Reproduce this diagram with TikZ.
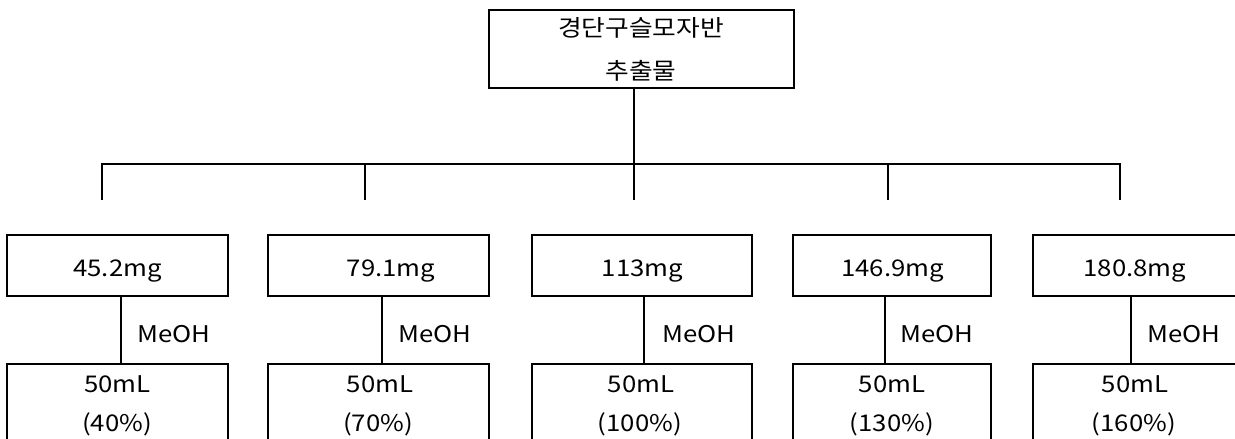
\documentclass[tikz,border=0pt]{standalone}
\usepackage{fontspec}
\setmainfont[FakeStretch=1.12]{Noto Sans CJK KR}
\begin{document}
\begin{tikzpicture}[x=1pt,y=-1pt,
  box/.style={draw, line width=2.8pt, inner sep=0pt},
  wire/.style={line width=2.6pt},
  txt/.style={anchor=base, inner sep=0pt, font=\fontsize{23}{28}\selectfont}]
\useasboundingbox (0,0) rectangle (1235,439);
\clip (0,0) rectangle (1235,439);
% top box
\node[box, minimum width=305pt, minimum height=78pt] (top) at (641.5,49) {};
\node[txt] (k1) at (641,36) {경단구슬모자반};
\node[txt] (k2) at (641,79) {추출물};
% branches
\coordinate (hub) at (634,164);
\coordinate (j1) at (102,200);
\coordinate (j2) at (365,200);
\coordinate (j3) at (634,200);
\coordinate (j4) at (888,200);
\coordinate (j5) at (1120,200);
\draw[wire] (top.south -| hub) -- (j3);
\draw[wire] (j1) -- (j1 |- hub) -- (j5 |- hub) -- (j5);
\draw[wire] (j2) -- (j2 |- hub);
\draw[wire] (j4) -- (j4 |- hub);
% upper row boxes
\node[box, minimum width=221pt, minimum height=61pt] (a1) at (117.5,265.5) {};
\node[box, minimum width=221pt, minimum height=61pt] (a2) at (378.5,265.5) {};
\node[box, minimum width=220pt, minimum height=61pt] (a3) at (642,265.5) {};
\node[box, minimum width=198pt, minimum height=61pt] (a4) at (892,265.5) {};
\node[box, minimum width=204pt, minimum height=61pt] (a5) at (1135,265.5) {};
\node[txt] (t1) at (117.5,276) {45.2mg};
\node[txt] (t2) at (391,276) {79.1mg};
\node[txt] (t3) at (642.5,276) {113mg};
\node[txt] (t4) at (892.5,276) {146.9mg};
\node[txt] (t5) at (1135,276) {180.8mg};
% lower row boxes
\node[box, minimum width=221pt, minimum height=90pt] (d1) at (117.5,409) {};
\node[box, minimum width=221pt, minimum height=90pt] (d2) at (378.5,409) {};
\node[box, minimum width=220pt, minimum height=90pt] (d3) at (642,409) {};
\node[box, minimum width=198pt, minimum height=90pt] (d4) at (892,409) {};
\node[box, minimum width=204pt, minimum height=90pt] (d5) at (1135,409) {};
\node[txt] (v1) at (117.5,392) {50mL};
\node[txt] (v2) at (380,392) {50mL};
\node[txt] (v3) at (641,392) {50mL};
\node[txt] (v4) at (892,392) {50mL};
\node[txt] (v5) at (1135,392) {50mL};
\node[txt] (p1) at (117,431) {(40\%)};
\node[txt] (p2) at (378,431) {(70\%)};
\node[txt] (p3) at (640,431) {(100\%)};
\node[txt] (p4) at (892,431) {(130\%)};
\node[txt] (p5) at (1134,431) {(160\%)};
% connectors
\coordinate (l1) at (121,330);
\coordinate (l2) at (382,330);
\coordinate (l3) at (644,330);
\coordinate (l4) at (885,330);
\coordinate (l5) at (1131,330);
\draw[wire] (a1.south -| l1) -- (d1.north -| l1);
\draw[wire] (a2.south -| l2) -- (d2.north -| l2);
\draw[wire] (a3.south -| l3) -- (d3.north -| l3);
\draw[wire] (a4.south -| l4) -- (d4.north -| l4);
\draw[wire] (a5.south -| l5) -- (d5.north -| l5);
\node[txt, anchor=base west] (m1) at (137,342) {MeOH};
\node[txt, anchor=base west] (m2) at (398,342) {MeOH};
\node[txt, anchor=base west] (m3) at (662,342) {MeOH};
\node[txt, anchor=base west] (m4) at (900,342) {MeOH};
\node[txt, anchor=base west] (m5) at (1147,342) {MeOH};
\end{tikzpicture}
\end{document}
